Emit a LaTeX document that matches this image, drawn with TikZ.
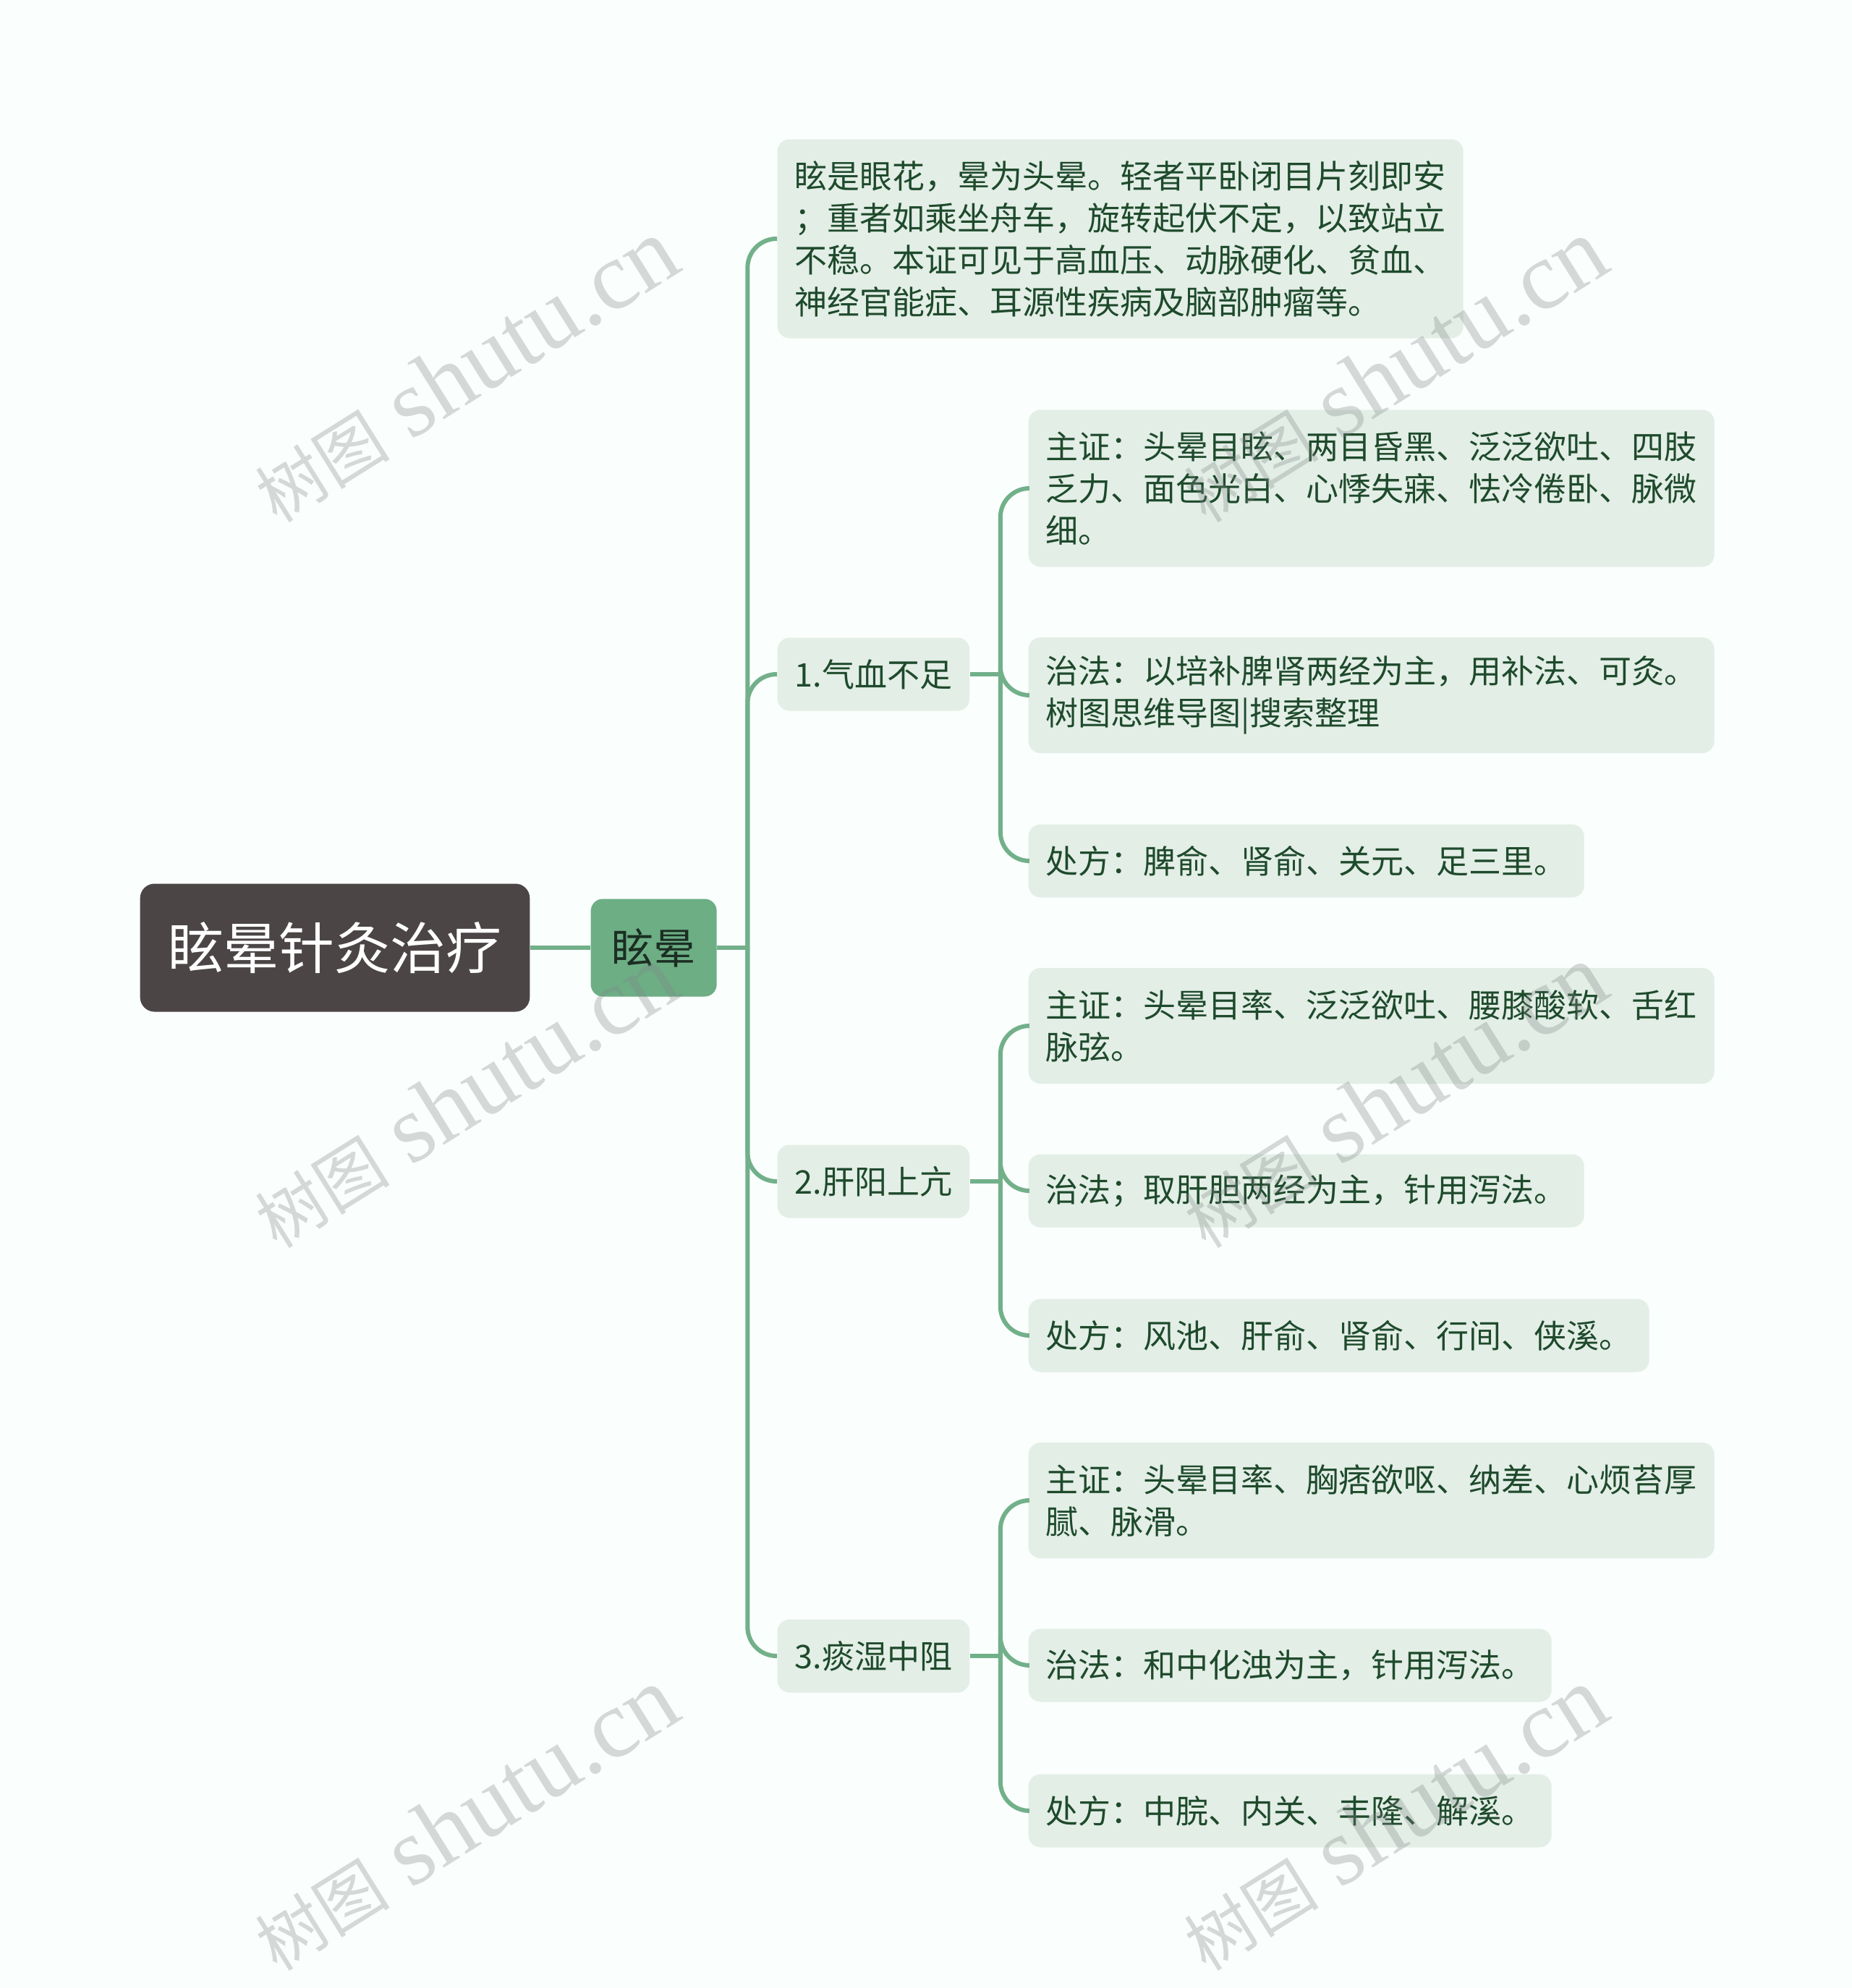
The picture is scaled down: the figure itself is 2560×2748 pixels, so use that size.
\documentclass[tikz,border=0pt]{standalone}
\usepackage{fontspec}
\setmainfont{Noto Sans CJK SC}
\newfontfamily\wmlatin{Liberation Serif}
\newfontfamily\wmcjk{Noto Sans CJK SC}
\definecolor{bgc}{HTML}{FAFEFD}
\definecolor{rootfill}{HTML}{4B4546}
\definecolor{lonefill}{HTML}{6DAE85}
\definecolor{lonetext}{HTML}{1B2E22}
\definecolor{leaffill}{HTML}{E3EEE6}
\definecolor{leaftext}{HTML}{1E4A2C}
\definecolor{linec}{HTML}{72B08A}
\definecolor{wmc}{HTML}{7F8585}
\begin{document}
\begin{tikzpicture}[x=0.3pt,y=-0.3pt,
  rootbox/.style={fill=rootfill,text=white,rounded corners=6pt,anchor=west,
    inner xsep=11.5pt,inner ysep=0pt,minimum height=53.1pt,
    font=\fontsize{23.1pt}{28pt}\selectfont},
  lonebox/.style={fill=lonefill,text=lonetext,rounded corners=5pt,anchor=west,
    inner xsep=8.7pt,inner ysep=0pt,minimum height=40.5pt,
    font=\fontsize{17.4pt}{21pt}\selectfont},
  leaf/.style={fill=leaffill,text=leaftext,rounded corners=5pt,anchor=west,
    inner xsep=7.2pt,inner ysep=0pt,align=left,
    font=\fontsize{13.5pt}{17.4pt}\selectfont},
  hone/.style={minimum height=30.3pt},
  htwo/.style={minimum height=48pt},
  hthree/.style={minimum height=65.1pt},
  hfour/.style={minimum height=82.5pt},
  conn/.style={draw=linec,line width=1.8pt},
  elbow/.style={conn,rounded corners=12pt},
  wm/.style={text=wmc,text opacity=0.3,rotate=32,inner sep=0pt}
]
\fill[bgc] (0,0) rectangle (2560,2748);
\useasboundingbox (0,0) rectangle (2560,2748);

% nodes
\node[rootbox] (root) at (193,1310) {眩晕针灸治疗};
\node[lonebox] (l1) at (816,1310) {眩晕};

\node[leaf,hfour] (desc) at (1074,330) {眩是眼花，晕为头晕。轻者平卧闭目片刻即安\\；重者如乘坐舟车，旋转起伏不定，以致站立\\不稳。本证可见于高血压、动脉硬化、贫血、\\神经官能症、耳源性疾病及脑部肿瘤等。};
\node[leaf,hone] (g1) at (1074,932) {1.气血不足};
\node[leaf,hone] (g2) at (1074,1633) {2.肝阳上亢};
\node[leaf,hone] (g3) at (1074,2289) {3.痰湿中阻};

\node[leaf,hthree] (g1a) at (1421,675) {主证：头晕目眩、两目昏黑、泛泛欲吐、四肢\\乏力、面色光白、心悸失寐、怯冷倦卧、脉微\\细。};
\node[leaf,htwo] (g1b) at (1421,961) {治法：以培补脾肾两经为主，用补法、可灸。\\树图思维导图|搜索整理};
\node[leaf,hone] (g1c) at (1421,1190) {处方：脾俞、肾俞、关元、足三里。};

\node[leaf,htwo] (g2a) at (1421,1418) {主证：头晕目率、泛泛欲吐、腰膝酸软、舌红\\脉弦。};
\node[leaf,hone] (g2b) at (1421,1646) {治法；取肝胆两经为主，针用泻法。};
\node[leaf,hone] (g2c) at (1421,1846) {处方：风池、肝俞、肾俞、行间、侠溪。};

\node[leaf,htwo] (g3a) at (1421,2074) {主证：头晕目率、胸痞欲呕、纳差、心烦苔厚\\腻、脉滑。};
\node[leaf,hone] (g3b) at (1421,2302) {治法：和中化浊为主，针用泻法。};
\node[leaf,hone] (g3c) at (1421,2503) {处方：中脘、内关、丰隆、解溪。};

% connectors
\draw[conn] (root.east) -- (l1.west);
\draw[conn] (l1.east) -- ++(42,0) coordinate (j0);
\foreach \c in {desc,g1,g2,g3} \draw[elbow] (j0) |- (\c.west);

\draw[conn] (g1.east) -- ++(42,0) coordinate (j1);
\foreach \c in {g1a,g1b,g1c} \draw[elbow] (j1) |- (\c.west);
\draw[conn] (g2.east) -- ++(42,0) coordinate (j2);
\foreach \c in {g2a,g2b,g2c} \draw[elbow] (j2) |- (\c.west);
\draw[conn] (g3.east) -- ++(42,0) coordinate (j3);
\foreach \c in {g3a,g3b,g3c} \draw[elbow] (j3) |- (\c.west);

% watermarks
\foreach \p [count=\i] in {(643,512),(1927,512),(643,1515),(1927,1515),(643,2514),(1927,2514)}
  \node[wm] (wm\i) at \p {{\wmcjk\fontsize{28pt}{32pt}\selectfont 树图}\hspace{9pt}{\wmlatin\fontsize{40pt}{44pt}\selectfont shutu.cn}};
\end{tikzpicture}
\end{document}
